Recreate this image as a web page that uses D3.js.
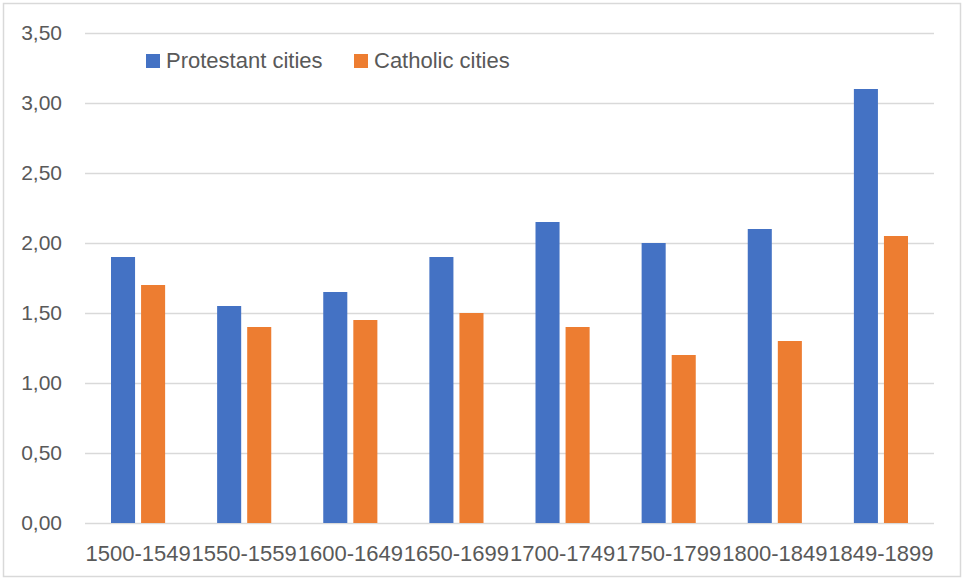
<!DOCTYPE html>
<html>
<head>
<meta charset="utf-8">
<script src="https://cdn.jsdelivr.net/npm/d3@7"></script>
<style>
  body { margin: 0; background: #fff; }
  svg { display: block; font-family: "Liberation Sans", Arial, sans-serif; }
</style>
</head>
<body>
<svg id="chart" width="963" height="579"></svg>
<script>
'use strict';

// Periods on the x axis
var periods = ["1500-1549", "1550-1559", "1600-1649", "1650-1699",
               "1700-1749", "1750-1799", "1800-1849", "1849-1899"];

var series_names = ["Protestant cities", "Catholic cities"];

var protestant_values = [1.90, 1.55, 1.65, 1.90, 2.15, 2.00, 2.10, 3.10];
var catholic_values = [1.70, 1.40, 1.45, 1.50, 1.40, 1.20, 1.30, 2.05];

var y_ticks = [0, 0.5, 1, 1.5, 2, 2.5, 3, 3.5];

var colors = {
    protestant: "#4472C4",
    catholic: "#ED7D31",
    grid: "#d9d9d9",
    text: "#595959",
};

var width = 963, height = 579;
var plot = {left: 85, right: 934, top: 33, bottom: 523};

var svg = d3.select("#chart");

// outer chart border
svg.append("rect")
   .attr("x", 3.5).attr("y", 3.5)
   .attr("width", width - 6).attr("height", height - 6)
   .attr("fill", "#fff")
   .attr("stroke", colors.grid)
   .attr("stroke-width", 1.5);

var x0 = d3.scaleBand()
           .domain(periods)
           .range([plot.left, plot.right])
           .padding(0);

var x1 = d3.scaleBand()
           .domain(series_names)
           .range([x0.bandwidth() * 0.245, x0.bandwidth() * 0.755])
           .paddingInner(0.2);

var y = d3.scaleLinear()
          .domain([0, 3.5])
          .range([plot.bottom, plot.top]);

var fmt = v => d3.format(".2f")(v).replace(".", ",");

// gridlines + y labels
var yAxis = d3.axisLeft(y)
              .tickValues(y_ticks)
              .tickFormat(fmt)
              .tickSize(-(plot.right - plot.left))
              .tickPadding(23);

var gy = svg.append("g")
            .attr("transform", "translate(" + plot.left + ",0)")
            .call(yAxis);
gy.select(".domain").remove();
gy.selectAll("line")
  .attr("stroke", colors.grid)
  .attr("stroke-width", 1.5);
gy.selectAll("text")
  .attr("fill", colors.text)
  .style("font-size", "21px")
  .style("font-family", "Liberation Sans, Arial, sans-serif");

// x labels
var xAxis = d3.axisBottom(x0).tickSize(0).tickPadding(22);
var gx = svg.append("g")
            .attr("transform", "translate(0," + plot.bottom + ")")
            .call(xAxis);
gx.select(".domain").remove();
gx.selectAll("text")
  .attr("fill", colors.text)
  .style("font-size", "22px")
  .style("font-family", "Liberation Sans, Arial, sans-serif");

// bars
var rows = periods.map((p, i) => ({
    period: p,
    values: [
        {name: series_names[0], value: protestant_values[i], color: colors.protestant},
        {name: series_names[1], value: catholic_values[i], color: colors.catholic},
    ]
}));

var groups = svg.append("g")
                .selectAll("g")
                .data(rows)
                .join("g")
                .attr("transform", d => "translate(" + x0(d.period) + ",0)");

groups.selectAll("rect")
      .data(d => d.values)
      .join("rect")
      .attr("x", d => x1(d.name))
      .attr("width", x1.bandwidth())
      .attr("y", d => y(d.value))
      .attr("height", d => y(0) - y(d.value))
      .attr("fill", d => d.color);

// legend
var legend_items = [
    {name: series_names[0], color: colors.protestant, x: 146},
    {name: series_names[1], color: colors.catholic, x: 354},
];

var lg = svg.append("g")
            .selectAll("g")
            .data(legend_items)
            .join("g")
            .attr("transform", d => "translate(" + d.x + ",54)");

lg.append("rect")
  .attr("width", 14).attr("height", 14)
  .attr("fill", d => d.color);

lg.append("text")
  .attr("x", 20)
  .attr("y", 14)
  .attr("fill", colors.text)
  .style("font-size", "22px")
  .text(d => d.name);
</script>
</body>
</html>
